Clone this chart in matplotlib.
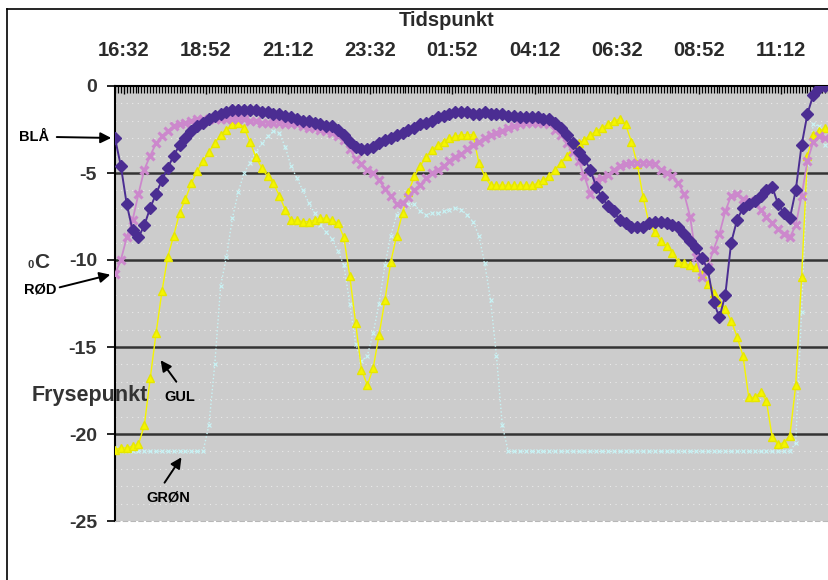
import numpy as np
import matplotlib
matplotlib.use("Agg")
import matplotlib.pyplot as plt
from matplotlib.lines import Line2D

plt.rcParams["font.family"] = ["Liberation Sans", "DejaVu Sans"]

# minutter etter 16:17, en måling hvert 10. minutt
minutter = list(range(0, 1220, 10))

tid_etiketter = ["16:32", "18:52", "21:12", "23:32", "01:52",
                 "04:12", "06:32", "08:52", "11:12"]
tid_pos = [15 + 140 * k for k in range(len(tid_etiketter))]

blaa = [-3.0, -4.6, -6.8, -8.3, -8.7, -8.0, -7.0, -6.2, -5.4, -4.7,
        -4.0, -3.4, -3.0, -2.6, -2.3, -2.1, -1.9, -1.7, -1.6, -1.5,
        -1.4, -1.4, -1.4, -1.4, -1.4, -1.5, -1.5, -1.6, -1.6, -1.7,
        -1.8, -1.9, -2.0, -2.0, -2.1, -2.2, -2.3, -2.3, -2.5, -2.8,
        -3.2, -3.5, -3.6, -3.6, -3.5, -3.3, -3.1, -3.0, -2.8, -2.7,
        -2.5, -2.4, -2.2, -2.1, -2.0, -1.8, -1.7, -1.6, -1.5, -1.5,
        -1.5, -1.6, -1.6, -1.5, -1.6, -1.6, -1.6, -1.7, -1.7, -1.8,
        -1.8, -1.8, -1.8, -1.9, -1.9, -2.1, -2.4, -2.8, -3.3, -3.8,
        -4.2, -4.8, -5.8, -6.4, -6.9, -7.2, -7.7, -7.9, -8.1, -8.1,
        -8.1, -7.9, -7.8, -7.8, -7.9, -8.0, -8.1, -8.5, -8.9, -9.3,
        -9.9, -10.5, -12.4, -13.3, -12.0, -9.0, -7.7, -7.0, -6.8, -6.6,
        -6.3, -6.0, -5.8, -6.8, -7.3, -7.6, -6.0, -3.4, -1.6, -0.5,
        -0.1, 0.0]

roed = [-10.8, -10.0, -8.7, -7.7, -6.2, -4.8, -4.0, -3.3, -2.9, -2.6,
        -2.3, -2.2, -2.1, -2.0, -1.9, -1.9, -1.9, -1.9, -1.9, -1.9,
        -1.9, -1.9, -1.9, -2.0, -2.0, -2.1, -2.1, -2.1, -2.1, -2.2,
        -2.2, -2.2, -2.3, -2.4, -2.4, -2.5, -2.6, -2.7, -2.9, -3.1,
        -3.6, -4.2, -4.5, -4.8, -5.0, -5.4, -5.9, -6.3, -6.8, -6.7,
        -6.4, -6.0, -5.7, -5.3, -5.0, -4.8, -4.6, -4.3, -4.1, -3.9,
        -3.6, -3.4, -3.2, -3.0, -2.8, -2.7, -2.6, -2.4, -2.3, -2.2,
        -2.1, -2.1, -2.1, -2.1, -2.2, -2.5, -2.8, -3.3, -3.8, -4.3,
        -5.2, -6.2, -5.4, -5.3, -5.1, -4.8, -4.6, -4.5, -4.4, -4.4,
        -4.4, -4.4, -4.5, -4.8, -5.0, -5.2, -5.6, -6.2, -7.5, -9.8,
        -11.0, -10.4, -9.4, -8.5, -7.2, -6.3, -6.2, -6.5, -6.6, -6.7,
        -7.1, -7.5, -7.9, -8.2, -8.5, -8.7, -8.0, -6.3, -4.3, -3.2,
        -2.9, -3.0]

gul = [-20.9, -20.8, -20.8, -20.7, -20.6, -19.5, -16.8, -14.2, -11.8, -9.8,
       -8.6, -7.3, -6.5, -5.6, -4.9, -4.3, -3.8, -3.3, -2.8, -2.5,
       -2.2, -2.1, -2.4, -3.2, -4.1, -4.7, -5.2, -5.6, -6.3, -7.1,
       -7.7, -7.7, -7.8, -7.8, -7.7, -7.6, -7.6, -7.7, -7.9, -8.7,
       -10.9, -13.6, -16.3, -17.2, -16.2, -14.3, -12.3, -10.1, -8.6, -7.3,
       -6.1, -5.2, -4.6, -4.1, -3.7, -3.4, -3.2, -3.0, -2.9, -2.8,
       -2.8, -2.8, -4.4, -5.2, -5.7, -5.7, -5.7, -5.7, -5.7, -5.7,
       -5.7, -5.7, -5.6, -5.4, -5.2, -4.8, -4.4, -4.0, -3.6, -3.3,
       -3.1, -2.8, -2.6, -2.4, -2.2, -2.0, -1.9, -2.2, -3.2, -4.5,
       -6.4, -7.9, -8.4, -8.9, -9.2, -9.6, -10.1, -10.2, -10.3, -10.4,
       -10.8, -11.4, -11.9, -12.4, -12.8, -13.5, -14.4, -15.5, -17.9, -17.9,
       -17.6, -18.1, -20.2, -20.6, -20.5, -20.1, -17.2, -11.0, -4.0, -2.8,
       -2.6, -2.4]

groen = [-20.8, -21.0, -21.0, -21.0, -21.0, -21.0, -21.0, -21.0, -21.0, -21.0,
         -21.0, -21.0, -21.0, -21.0, -21.0, -21.0, -19.5, -16.0, -11.5, -9.8,
         -7.6, -6.1, -5.0, -4.4, -3.8, -3.3, -2.9, -2.6, -2.7, -3.5,
         -4.6, -5.3, -6.0, -6.7, -7.3, -8.0, -8.4, -8.8, -9.5, -10.3,
         -12.5, -14.8, -15.8, -15.5, -14.2, -12.5, -10.3, -8.6, -7.4, -6.8,
         -6.8, -6.8, -7.2, -7.4, -7.3, -7.3, -7.2, -7.1, -7.0, -7.1,
         -7.4, -7.8, -8.6, -10.2, -12.3, -15.5, -19.5, -21.0, -21.0, -21.0,
         -21.0, -21.0, -21.0, -21.0, -21.0, -21.0, -21.0, -21.0, -21.0, -21.0,
         -21.0, -21.0, -21.0, -21.0, -21.0, -21.0, -21.0, -21.0, -21.0, -21.0,
         -21.0, -21.0, -21.0, -21.0, -21.0, -21.0, -21.0, -21.0, -21.0, -21.0,
         -21.0, -21.0, -21.0, -21.0, -21.0, -21.0, -21.0, -21.0, -21.0, -21.0,
         -21.0, -21.0, -21.0, -21.0, -21.0, -21.0, -20.5, -13.0, -4.5, -2.2,
         -2.3, -3.4]

fig = plt.figure(figsize=(8.29, 5.80), dpi=100)
ax = fig.add_axes([115 / 829, 59 / 580, 713 / 829, 435 / 580])
ax.set_facecolor("#cccccc")

# grønn (lys cyan, prikket)
ax.plot(minutter, groen, color="#c8f4f6", lw=1.0, ls=":", marker="x",
        ms=3.5, mew=0.8, zorder=3)
# gul
ax.plot(minutter, gul, color="#f5f500", lw=1.0, marker="^", ms=6,
        mec="#e6e600", zorder=4)
# rød (rosa)
ax.plot(minutter, roed, color="#cc88cc", lw=1.3, marker="x", ms=6,
        mew=2.2, zorder=5)
# blå (mørk lilla)
ax.plot(minutter, blaa, color="#4b2d92", lw=1.4, marker="D", ms=6,
        zorder=6)

ax.set_xlim(0, 1215)
ax.set_ylim(-25, 0)

# rutenett
for y in np.arange(-24, 0, 1.0):
    if y % 5 != 0:
        ax.axhline(y, color="white", lw=0.8, ls=(0, (1, 4)), alpha=0.6, zorder=1)
for y in [-5, -10, -15, -20]:
    ax.axhline(y, color="#333333", lw=1.8, zorder=2)

ax.xaxis.tick_top()
ax.set_xticks(tid_pos)
ax.set_xticklabels(tid_etiketter, fontsize=14.5, fontweight="bold",
                   color="#2a2a2a")
ax.set_xticks(range(0, 1216, 5), minor=True)
ax.tick_params(axis="x", which="major", direction="in", length=6, width=1,
               pad=19, top=True, bottom=False)
ax.tick_params(axis="x", which="minor", direction="in", length=5, width=0.9,
               top=True, bottom=False)

ax.set_yticks([0, -5, -10, -15, -20, -25])
ax.set_yticklabels(["0", "-5", "-10", "-15", "-20", "-25"], fontsize=14,
                   fontweight="bold", color="#333333")
ax.tick_params(axis="y", direction="out", length=6, width=1.2, pad=7)

ax.spines["right"].set_visible(False)
ax.spines["bottom"].set_color("#b8b8b8")
ax.spines["bottom"].set_linestyle((0, (4, 3)))
ax.spines["left"].set_linewidth(1.5)
ax.spines["top"].set_linewidth(1.5)

# tekster
fig.text(447 / 829, 1 - 21 / 580, "Tidspunkt", ha="center", va="center",
         fontsize=14.5, fontweight="bold", color="#2a2a2a")
fig.text(148 / 829, 1 - 395 / 580, "Frysepunkt", ha="right", va="center",
         fontsize=15.5, fontweight="bold", color="#333333")
fig.text(34 / 829, 1 - 268 / 580, "0", ha="right", va="baseline",
         fontsize=8, fontweight="bold", color="#333333")
fig.text(34 / 829, 1 - 268 / 580, "C", ha="left", va="baseline",
         fontsize=15, fontweight="bold", color="#333333")


def etikett(tekst, tx, ty):
    fig.text(tx / 829, 1 - ty / 580, tekst, ha="left", va="center",
             fontsize=10.5, fontweight="bold", color="black")


def pilstrek(x0, y0, x1, y1):
    ax.annotate("", xy=(x1 / 829, 1 - y1 / 580), xycoords="figure fraction",
                xytext=(x0 / 829, 1 - y0 / 580), textcoords="figure fraction",
                arrowprops=dict(arrowstyle="-|>", color="black", lw=1.4,
                                mutation_scale=16),
                annotation_clip=False, zorder=10)


etikett("BLÅ", 19, 137)
pilstrek(54, 137, 114, 138)
etikett("RØD", 24, 290)
pilstrek(57, 288, 113, 274)
etikett("GUL", 164, 397)
pilstrek(178, 384, 159, 358)
etikett("GRØN", 146, 497)
pilstrek(163, 485, 183, 455)

# ramme
fig.add_artist(Line2D([7 / 829, 7 / 829], [0, 1 - 9 / 580], color="black",
                      lw=1.2, transform=fig.transFigure))
fig.add_artist(Line2D([7 / 829, 1], [1 - 9 / 580, 1 - 9 / 580], color="black",
                      lw=1.2, transform=fig.transFigure))

fig.savefig("out.png", dpi=100)
